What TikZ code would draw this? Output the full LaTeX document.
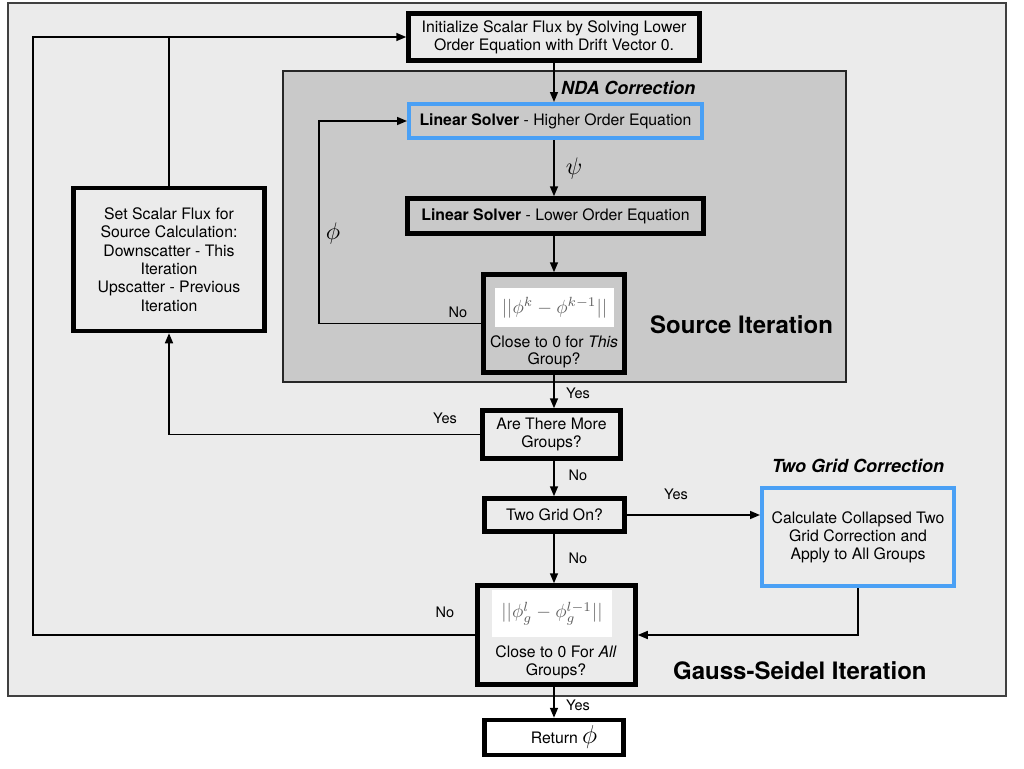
\documentclass[tikz,border=0pt]{standalone}
\usepackage{fontspec}
\setmainfont{TeX Gyre Heros}
\usetikzlibrary{arrows.meta,calc}
\definecolor{outerbg}{RGB}{235,235,235}
\definecolor{srcbg}{RGB}{201,201,201}
\definecolor{blueb}{RGB}{74,160,245}
\definecolor{formulac}{RGB}{95,95,95}
\begin{document}
\begin{tikzpicture}[x=1pt,y=-1pt,
  tbox/.style={draw=black, line width=4.5pt, align=center, inner sep=0pt, font=\fontsize{15.8}{18}\selectfont},
  bbox/.style={draw=blueb, line width=4pt, align=center, inner sep=0pt, font=\fontsize{15.8}{18}\selectfont},
  arr/.style={line width=1.6pt, -{Triangle[length=10pt,width=8pt]}},
  ln/.style={line width=1.6pt},
  lbl/.style={font=\fontsize{14.5}{17}\selectfont, inner sep=0pt},
  bigl/.style={font=\bfseries\fontsize{24}{26}\selectfont, inner sep=0pt},
  secl/.style={font=\bfseries\itshape\fontsize{18}{20}\selectfont, inner sep=0pt},
  fbox/.style={fill=white, inner sep=0pt, text=formulac},
  ctext/.style={align=center, inner sep=0pt, font=\fontsize{15.8}{17.5}\selectfont}
]
\useasboundingbox (0,0) rectangle (1024,768);
\fill[white] (0,0) rectangle (1024,768);
% frames
\path[draw=black!75, line width=1.5pt, fill=outerbg] (8,3) rectangle (1006,696);
\path[draw=black!85, line width=1.5pt, fill=srcbg] (283,71) rectangle (846,382);

% nodes
\node[tbox, minimum width=291pt, minimum height=47pt] (init) at (554,37) {Initialize Scalar Flux by Solving Lower\\Order Equation with Drift Vector 0.};
\node[secl, anchor=west] (nda) at (561,88) {NDA Correction};
\node[bbox, minimum width=293pt, minimum height=34pt] (ho) at (555.5,121) {\textbf{Linear Solver} - Higher Order Equation};
\node[tbox, minimum width=296pt, minimum height=35pt] (lo) at (555.5,216) {\textbf{Linear Solver} - Lower Order Equation};
\node[tbox, minimum width=141pt, minimum height=98pt] (chk1) at (554,323.5) {};
\node[fbox, minimum width=119pt, minimum height=39pt] (f1) at (554.5,307.5) {\scalebox{1.9}{$||\phi^k-\phi^{k-1}||$}};
\node[ctext] (t1) at (554,352) {Close to 0 for \textit{This}\\Group?};
\node[bigl, anchor=west] (srcl) at (650,325) {Source Iteration};

\node[tbox, minimum width=191pt, minimum height=143pt, font=\fontsize{15.8}{18.3}\selectfont] (set) at (169,259.5) {Set Scalar Flux for\\Source Calculation:\\Downscatter - This\\Iteration\\Upscatter - Previous\\Iteration};

\node[tbox, minimum width=138pt, minimum height=48pt, font=\fontsize{15.8}{17.5}\selectfont] (more) at (551.5,434.5) {Are There More\\Groups?};
\node[tbox, minimum width=140pt, minimum height=33pt] (tg) at (554.5,515) {Two Grid On?};
\node[secl] (tgl) at (858,466) {Two Grid Correction};
\node[bbox, minimum width=192pt, minimum height=98pt, font=\fontsize{15.8}{18}\selectfont] (tgc) at (858,537) {Calculate Collapsed Two\\Grid Correction and\\Apply to All Groups};

\node[tbox, minimum width=158pt, minimum height=99pt] (chk2) at (556.5,635) {};
\node[fbox, minimum width=120pt, minimum height=47pt] (f2) at (552,613.5) {\scalebox{1.9}{$||\phi_g^l-\phi_g^{l-1}||$}};
\node[ctext] (t2) at (556,662.5) {Close to 0 For \textit{All}\\Groups?};
\node[bigl, anchor=west] (gsl) at (673,671) {Gauss-Seidel Iteration};

\node[tbox, fill=white, minimum width=139pt, minimum height=35pt] (ret) at (554,737.5) {};
\node[ctext] (rett) at (564,737.5) {Return \scalebox{1.8}{$\phi$}};

% connectors
\coordinate (cl) at (33,0);
\coordinate (cs) at (319,0);
\draw[arr] (init.south) -- (init.south |- ho.north);
\draw[arr] (ho.south -| init.south) -- (init.south |- lo.north);
\draw[arr] (lo.south -| init.south) -- (init.south |- chk1.north);
\draw[arr] (chk1.west) -- (chk1.west -| cs) |- (ho.west);
\draw[arr] (chk1.south -| init.south) -- (init.south |- more.north);
\draw[arr] (more.west) -| (set.south);
\draw[ln] (set.north) -- (set.north |- init.west);
\draw[arr] (more.south -| init.south) -- (init.south |- tg.north);
\draw[arr] (tg.east) -- (tg.east -| tgc.west);
\draw[arr] (tg.south -| init.south) -- (init.south |- chk2.north);
\draw[arr] (tgc.south) |- (chk2.east);
\draw[arr] (chk2.west) -- (chk2.west -| cl) |- (init.west);
\draw[arr] (chk2.south -| init.south) -- (init.south |- ret.north);

% labels
\node[inner sep=0pt] (psi) at (574,168) {\scalebox{2.4}{$\psi$}};
\node[inner sep=0pt] (phil) at (333,233) {\scalebox{2.4}{$\phi$}};
\node[lbl] (l1) at (458,312) {No};
\node[lbl] (l2) at (578,393) {Yes};
\node[lbl] (l3) at (445,418) {Yes};
\node[lbl] (l4) at (578,475) {No};
\node[lbl] (l5) at (676,494) {Yes};
\node[lbl] (l6) at (578,558) {No};
\node[lbl] (l7) at (445,612) {No};
\node[lbl] (l8) at (578,705) {Yes};
\end{tikzpicture}
\end{document}
